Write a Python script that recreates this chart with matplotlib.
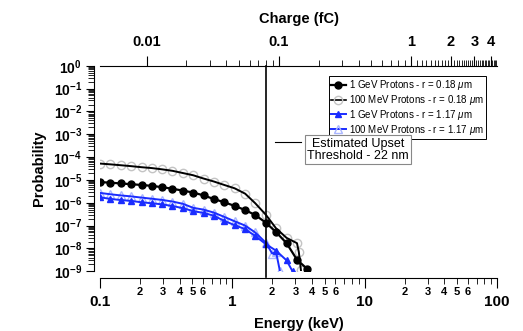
import matplotlib
matplotlib.use('Agg')
import matplotlib.pyplot as plt
from matplotlib.ticker import FixedLocator, FuncFormatter, NullFormatter
from matplotlib.lines import Line2D
import numpy as np

plt.rcParams['font.family'] = ['Liberation Sans', 'DejaVu Sans']
plt.rcParams['mathtext.fontset'] = 'custom'
plt.rcParams['mathtext.rm'] = 'Liberation Sans'
plt.rcParams['mathtext.it'] = 'Liberation Sans:italic'
plt.rcParams['mathtext.bf'] = 'Liberation Sans:bold'

# energy deposited (keV) and probability
e_1gev_018 = [0.100, 0.120, 0.143, 0.172, 0.206, 0.246, 0.295, 0.353, 0.423, 0.506, 0.606,
              0.726, 0.870, 1.04, 1.25, 1.49, 1.79, 2.14, 2.57, 3.08, 3.69]
p_1gev_018 = [8.0e-6, 7.6e-6, 7.0e-6, 6.5e-6, 6.0e-6, 5.5e-6, 4.8e-6, 4.1e-6, 3.4e-6, 2.8e-6, 2.1e-6,
              1.45e-6, 1.05e-6, 7.3e-7, 4.8e-7, 2.9e-7, 1.35e-7, 5.2e-8, 1.7e-8, 3.2e-9, 1.25e-9]

e_100mev_018 = [0.100, 0.120, 0.143, 0.172, 0.206, 0.246, 0.295, 0.353, 0.423, 0.506, 0.606,
                0.726, 0.870, 1.04, 1.25, 1.49, 1.79, 2.14, 2.57, 3.08, 3.18, 3.30]
p_100mev_018 = [5.2e-5, 4.8e-5, 4.4e-5, 4.0e-5, 3.6e-5, 3.3e-5, 2.9e-5, 2.5e-5, 2.0e-5, 1.6e-5, 1.15e-5,
                8.5e-6, 6.0e-6, 4.3e-6, 2.5e-6, 9.5e-7, 3.0e-7, 7.6e-8, 2.9e-8, 1.7e-8, 7.0e-9, 1.1e-9]

e_1gev_117 = [0.100, 0.120, 0.143, 0.172, 0.206, 0.246, 0.295, 0.353, 0.423, 0.506, 0.606,
              0.726, 0.870, 1.04, 1.25, 1.49, 1.79, 2.14, 2.57, 2.85]
p_1gev_117 = [1.74e-6, 1.47e-6, 1.32e-6, 1.2e-6, 1.05e-6, 9.5e-7, 8.5e-7, 7.2e-7, 5.8e-7, 4.3e-7, 3.6e-7,
              2.7e-7, 1.6e-7, 1.05e-7, 7.0e-8, 3.5e-8, 1.55e-8, 8.0e-9, 3.0e-9, 1.0e-9]

e_100mev_117 = [0.100, 0.120, 0.143, 0.172, 0.206, 0.246, 0.295, 0.353, 0.423, 0.506, 0.606,
                0.726, 0.870, 1.04, 1.25, 1.49, 1.79, 2.00, 2.14, 2.29]
p_100mev_117 = [2.7e-6, 2.35e-6, 2.1e-6, 1.9e-6, 1.68e-6, 1.5e-6, 1.33e-6, 1.13e-6, 9.0e-7, 6.0e-7, 5.0e-7,
                3.7e-7, 2.4e-7, 1.55e-7, 1.0e-7, 5.0e-8, 1.8e-8, 6.0e-9, 7.0e-9, 1.0e-9]

threshold_kev = 1.8
fc_per_kev = 0.0445   # 3.6 eV per e-h pair in Si

labels = ['1 GeV Protons - r = 0.18 $\\mu$m', '100 MeV Protons - r = 0.18 $\\mu$m',
          '1 GeV Protons - r = 1.17 $\\mu$m', '100 MeV Protons - r = 1.17 $\\mu$m']

blue = '#1a2cff'
lblue = '#aab6ff'
grey = '#c4c4c4'

fig = plt.figure(figsize=(5.23, 3.31), dpi=100)
ax = fig.add_axes([0.1912, 0.1804, 0.7591, 0.6211])

# 100 MeV r=0.18: grey open circles under a black line
ax.plot(e_100mev_018, p_100mev_018, ls='none', marker='o', ms=6, mfc='none', mec=grey, mew=1.0, zorder=2)
ax.plot(e_100mev_018, p_100mev_018, color='black', lw=1.4, zorder=3)
ax.plot(e_1gev_018, p_1gev_018, color='black', lw=1.6, marker='o', ms=5, zorder=4)

ax.plot(e_100mev_117, p_100mev_117, ls='none', marker='^', ms=6, mfc='none', mec=lblue, mew=1.0, zorder=2)
ax.plot(e_100mev_117, p_100mev_117, color=blue, lw=1.4, zorder=3)
ax.plot(e_1gev_117, p_1gev_117, color=blue, lw=1.4, marker='^', ms=5, zorder=4)

ax.axvline(threshold_kev, ymin=-0.03, ymax=1, color='black', lw=1.2, clip_on=False, zorder=5)

ax.set_xscale('log')
ax.set_yscale('log')
ax.set_xlim(0.1, 100)
ax.set_ylim(1e-9, 1)

for s in ('top', 'right'):
    ax.spines[s].set_visible(False)
ax.spines['left'].set_position(('outward', 4))
ax.spines['bottom'].set_position(('outward', 5))

# y ticks
ax.yaxis.set_major_locator(FixedLocator([10.0 ** k for k in range(-9, 1)]))
ax.yaxis.set_minor_locator(FixedLocator([m * 10.0 ** k for k in range(-9, 0) for m in range(2, 10)]))
ax.yaxis.set_major_formatter(FuncFormatter(lambda v, p: r'$\mathbf{10^{%d}}$' % round(np.log10(v))))
ax.yaxis.set_minor_formatter(NullFormatter())
ax.tick_params(axis='y', which='major', direction='out', length=6, width=0.8, labelsize=10, pad=3)
ax.tick_params(axis='y', which='minor', direction='out', length=4, width=0.6)

# bottom ticks
ax.xaxis.set_major_locator(FixedLocator([0.1, 1, 10, 100]))
ax.xaxis.set_major_formatter(FuncFormatter(lambda v, p: '%g' % v))
ax.xaxis.set_minor_locator(FixedLocator([m * d for d in (0.1, 1, 10) for m in range(2, 10)]))

def minor_lab(v, p):
    lead = int(round(v / 10.0 ** np.floor(np.log10(v) + 1e-9)))
    return str(lead) if lead <= 6 else ''

ax.xaxis.set_minor_formatter(FuncFormatter(minor_lab))
ax.tick_params(axis='x', which='major', direction='out', length=7, width=0.8, labelsize=11, pad=5)
ax.tick_params(axis='x', which='minor', direction='out', length=4, width=0.6, labelsize=8, pad=2)
for t in ax.get_xticklabels(which='both') + ax.get_yticklabels():
    t.set_fontweight('bold')

ax.set_xlabel('Energy (keV)', fontsize=10.5, fontweight='bold', labelpad=6)
ax.set_ylabel('Probability', fontsize=10.5, fontweight='bold', labelpad=5)

# top axis: collected charge
sec = ax.secondary_xaxis('top', functions=(lambda e: e * fc_per_kev, lambda q: q / fc_per_kev))
sec.xaxis.set_major_locator(FixedLocator([0.01, 0.1, 1, 2, 3, 4]))
sec.xaxis.set_major_formatter(FuncFormatter(lambda v, p: '%g' % v))
top_minor = [m * 0.01 for m in range(2, 10)] + [m * 0.1 for m in range(2, 10)] + \
            [1 + k * 0.1 for k in range(1, 35) if k % 10]
sec.xaxis.set_minor_locator(FixedLocator(top_minor))
sec.xaxis.set_minor_formatter(NullFormatter())
sec.tick_params(which='major', direction='out', length=7, width=0.8, labelsize=10.5, pad=5)
sec.tick_params(which='minor', direction='out', length=4, width=0.6)
for t in sec.get_xticklabels():
    t.set_fontweight('bold')
sec.set_xlabel('Charge (fC)', fontsize=10.5, fontweight='bold', labelpad=9)

# legend
handles = [
    Line2D([], [], color='black', lw=1.6, marker='o', ms=5),
    Line2D([], [], color='black', lw=1.2, marker='o', ms=6, mfc='none', mec=grey),
    Line2D([], [], color=blue, lw=1.4, marker='^', ms=5),
    Line2D([], [], color=blue, lw=1.4, marker='^', ms=6, mfc='none', mec=lblue),
]
leg = ax.legend(handles, labels, loc='upper right', bbox_to_anchor=(0.972, 0.948), fontsize=7,
                frameon=True, fancybox=False, framealpha=1, edgecolor='black', handlelength=1.6,
                handletextpad=0.3, labelspacing=0.08, borderpad=0.2, borderaxespad=0)
leg.get_frame().set_linewidth(0.7)

# threshold annotation
ax.plot([2.1, 3.3], [4.6e-4, 4.6e-4], color='black', lw=0.8, zorder=2)
ax.text(8.9, 2.1e-4, 'Estimated Upset\nThreshold - 22 nm', ha='center', va='center', fontsize=9,
        linespacing=1.0, zorder=6,
        bbox=dict(boxstyle='square,pad=0.2', fc='white', ec='#888888', lw=0.8))

fig.savefig('out.png', dpi=100)
